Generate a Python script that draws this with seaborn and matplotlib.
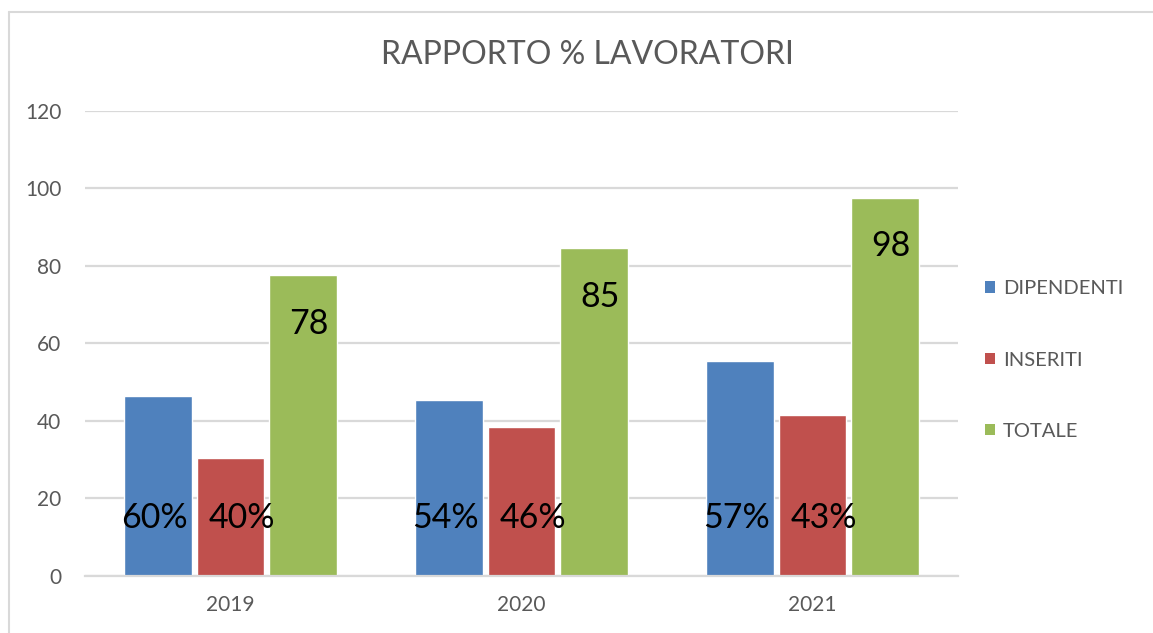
import matplotlib
matplotlib.use('Agg')
import matplotlib.pyplot as plt
from matplotlib.lines import Line2D
from matplotlib.patches import Patch
import pandas as pd
import seaborn as sns

# values
years = ['2019', '2020', '2021']
series = ['DIPENDENTI', 'INSERITI', 'TOTALE']
dipendenti = [46.5, 45.5, 55.5]
inseriti = [30.5, 38.5, 41.5]
totale = [77.5, 84.5, 97.5]
pct_dipendenti = ['60%', '54%', '57%']
pct_inseriti = ['40%', '46%', '43%']
totale_labels = ['78', '85', '98']
colors = ['#4F81BD', '#C0504D', '#9BBB59']

df = pd.DataFrame({
    'anno': years * 3,
    'serie': [s for s in series for _ in years],
    'valore': dipendenti + inseriti + totale,
})

sns.set_theme(style='white')
plt.rcParams['font.family'] = ['Lato', 'DejaVu Sans']
grey = '#595959'
grid = '#D9D9D9'

fig = plt.figure(figsize=(11.53, 6.33), dpi=100)
ax = fig.add_axes([85 / 1153, 57 / 633, 873 / 1153, 465.3 / 633])

sns.barplot(data=df, x='anno', y='valore', hue='serie', order=years,
            hue_order=series, palette=colors, width=0.75, gap=0.07,
            saturation=1, ax=ax, legend=False)

ax.set_xlim(-0.5, 2.5)
ax.set_ylim(0, 120)
ax.set_yticks(range(0, 121, 20))
ax.yaxis.grid(True, color=grid, linewidth=1.6)
ax.set_axisbelow(True)
for s in ['top', 'right', 'left']:
    ax.spines[s].set_visible(False)
ax.spines['bottom'].set_color(grid)
ax.spines['bottom'].set_linewidth(1.6)
ax.set_xlabel('')
ax.set_ylabel('')
ax.tick_params(axis='y', length=0, pad=17, labelsize=15, labelcolor=grey)
ax.tick_params(axis='x', which='major', length=0, pad=14, labelsize=15, labelcolor=grey)
ax.set_xticks([-0.5, 0.5, 1.5, 2.5], minor=True)
ax.tick_params(axis='x', which='minor', length=6, width=1.6, color=grid, direction='out')

# data labels
for i, bar in enumerate(ax.containers[0]):
    cx = bar.get_x() + bar.get_width() / 2
    ax.text(cx - 0.01, 15, pct_dipendenti[i], ha='center', va='center', fontsize=24.5, color='black')
for i, bar in enumerate(ax.containers[1]):
    cx = bar.get_x() + bar.get_width() / 2
    ax.text(cx + 0.04, 15, pct_inseriti[i], ha='center', va='center', fontsize=24.5, color='black')
for i, bar in enumerate(ax.containers[2]):
    cx = bar.get_x() + bar.get_width() / 2
    ax.text(cx + 0.02, bar.get_height() - 12.5, totale_labels[i], ha='center', va='center',
            fontsize=24.5, color='black')

# legend
handles = [Patch(facecolor=c, edgecolor='none') for c in colors]
fig.legend(handles, series, loc='center left', bbox_to_anchor=(985 / 1153, 1 - 360 / 633),
           frameon=False, fontsize=14.5, labelcolor=grey, handlelength=0.5, handleheight=0.5,
           handletextpad=0.4, labelspacing=2.7, borderaxespad=0, borderpad=0)

fig.text(587 / 1153, 1 - 55 / 633, 'RAPPORTO % LAVORATORI', ha='center', va='center',
         fontsize=23, color=grey)

# chart border (left and top only visible)
fig.add_artist(Line2D([9 / 1153, 9 / 1153], [0, 1 - 12 / 633], transform=fig.transFigure,
                      color=grid, linewidth=1.5))
fig.add_artist(Line2D([9 / 1153, 1], [1 - 12 / 633, 1 - 12 / 633], transform=fig.transFigure,
                      color=grid, linewidth=1.5))

fig.savefig('out.png', dpi=100, facecolor='white')
